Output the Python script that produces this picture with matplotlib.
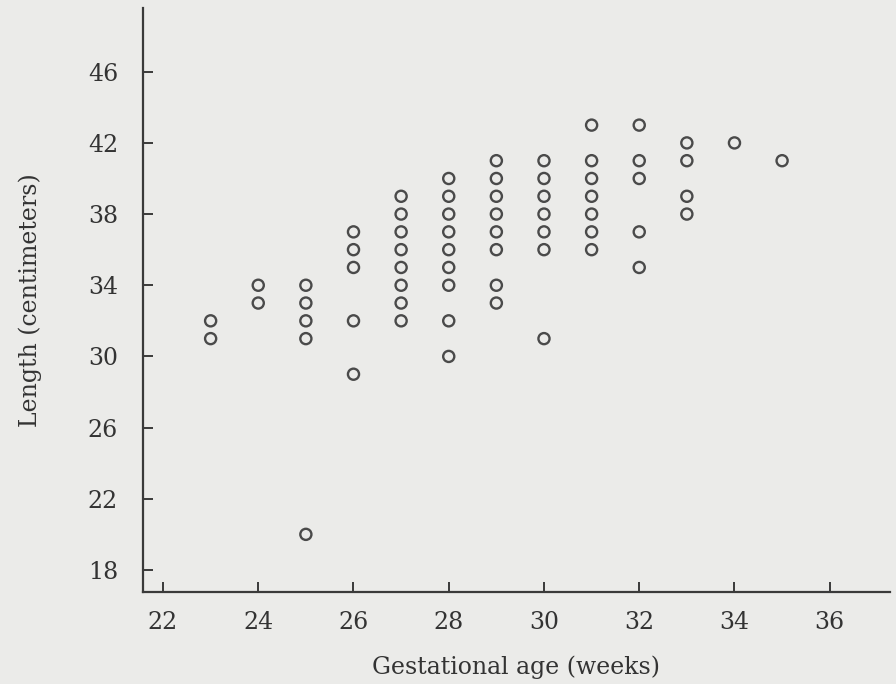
import matplotlib
matplotlib.use("Agg")
import matplotlib.pyplot as plt

# gestational age (weeks) and the lengths (cm) recorded at each age
weeks = [23, 24, 25, 26, 27, 28, 29, 30, 31, 32, 33, 34, 35]
lengths = [
    [32, 31],
    [34, 33],
    [34, 33, 32, 31, 20],
    [37, 36, 35, 32, 29],
    [39, 38, 37, 36, 35, 34, 33, 32],
    [40, 39, 38, 37, 36, 35, 34, 32, 30],
    [41, 40, 39, 38, 37, 36, 34, 33],
    [41, 40, 39, 38, 37, 36, 31],
    [43, 41, 40, 39, 38, 37, 36],
    [43, 41, 40, 37, 35],
    [42, 41, 39, 38],
    [42],
    [41],
]
x_ticks = [22, 24, 26, 28, 30, 32, 34, 36]
y_ticks = [18, 22, 26, 30, 34, 38, 42, 46]

x = []
y = []
for w, ls in zip(weeks, lengths):
    for v in ls:
        x.append(w)
        y.append(v)

paper = "#ebebe9"
ink = "#3a3a3a"

fig = plt.figure(figsize=(8.96, 6.84), dpi=100, facecolor=paper)
ax = fig.add_axes([0.1596, 0.1345, 0.8334, 0.8535])
ax.set_facecolor(paper)

ax.scatter(x, y, s=64, facecolors="none", edgecolors="#4a4a4a", linewidths=1.7, zorder=3)

ax.set_xlim(21.58, 37.26)
ax.set_ylim(16.76, 49.57)
ax.set_xticks(x_ticks)
ax.set_yticks(y_ticks)

for side in ["top", "right"]:
    ax.spines[side].set_visible(False)
for side in ["left", "bottom"]:
    ax.spines[side].set_color(ink)
    ax.spines[side].set_linewidth(1.6)

ax.tick_params(direction="in", length=7, width=1.4, color=ink,
               labelsize=17, labelcolor="#333333")
ax.tick_params(axis="x", pad=14)
ax.tick_params(axis="y", pad=18)
for lab in ax.get_xticklabels() + ax.get_yticklabels():
    lab.set_family("DejaVu Serif")

ax.set_xlabel("Gestational age (weeks)", fontsize=17, family="DejaVu Serif",
              color="#333333", labelpad=15)
ax.set_ylabel("Length (centimeters)", fontsize=17, family="DejaVu Serif",
              color="#333333", labelpad=33)

fig.savefig("out.png", dpi=100, facecolor=paper)
